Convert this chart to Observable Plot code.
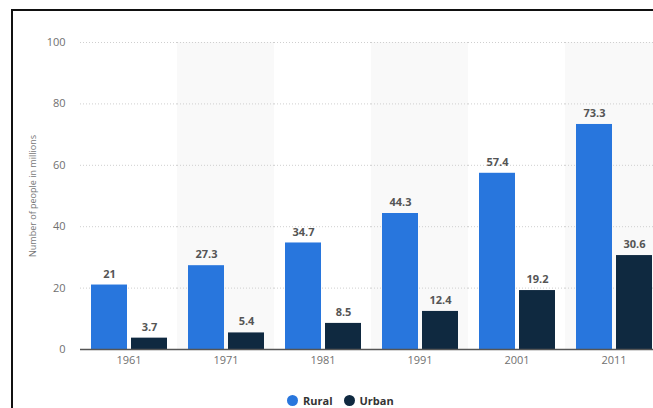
<!DOCTYPE html>
<html>
<head>
<meta charset="utf-8">
<script src="https://cdn.jsdelivr.net/npm/d3@7"></script>
<script src="https://cdn.jsdelivr.net/npm/@observablehq/plot@0.6"></script>
<style>
  html, body { margin: 0; padding: 0; background: #fff; overflow: hidden; width: 653px; height: 408px; }
  #wrap { position: relative; width: 653px; height: 408px; overflow: hidden; }
  #frame { position: absolute; left: 11px; top: 9px; width: 800px; height: 600px; border-top: 2px solid #111; border-left: 2px solid #111; pointer-events: none; }
  #chart { position: absolute; left: 0; top: 0; width: 700px; }
  #chart svg { max-width: none !important; }
  #legend { position: absolute; top: 393px; left: 287px; font-family: "Open Sans", sans-serif; font-size: 11px; font-weight: bold; color: #333; display: flex; align-items: center; white-space: nowrap; }
  #legend span.sw { display: inline-block; width: 11px; height: 11px; border-radius: 50%; margin-right: 5px; }
  #legend span.lab { margin-right: 11px; }
</style>
</head>
<body>
<div id="wrap">
  <div id="chart"></div>
  <div id="frame"></div>
  <div id="legend"></div>
</div>
<script>
const years = ["1961", "1971", "1981", "1991", "2001", "2011"];
const rural = [21, 27.3, 34.7, 44.3, 57.4, 73.3];
const urban = [3.7, 5.4, 8.5, 12.4, 19.2, 30.6];
const seriesNames = ["Rural", "Urban"];
const seriesColors = ["#2876dd", "#0f2940"];
const shadedYears = ["1971", "1991", "2011"];
const yTicks = [0, 20, 40, 60, 80, 100];
const yLabel = "Number of people in millions";

const data = [];
years.forEach((y, i) => {
  data.push({year: y, type: "Rural", value: rural[i]});
  data.push({year: y, type: "Urban", value: urban[i]});
});

const chart = Plot.plot({
  width: 670,
  height: 372,
  marginLeft: 80,
  marginRight: 8,
  marginTop: 42,
  marginBottom: 23,
  style: {fontFamily: "'Open Sans', sans-serif", background: "transparent", maxWidth: "none"},
  fx: {domain: years, padding: 0, label: null},
  x: {domain: seriesNames, paddingInner: 0.1, paddingOuter: 0.26, axis: null},
  y: {domain: [0, 100], label: null},
  color: {domain: seriesNames, range: seriesColors},
  marks: [
    Plot.barY(shadedYears, {fx: d => d, y1: 0, y2: 100, fill: "#f9f9f9"}),
    Plot.gridY(yTicks, {stroke: "#cfcfcf", strokeOpacity: 1, strokeDasharray: "1,2"}),
    Plot.axisY(yTicks, {tickSize: 0, tickPadding: 15, fontSize: 11, fill: "#707070", label: null}),
    Plot.axisFx({anchor: "bottom", tickSize: 0, tickPadding: 7, fontSize: 11, fill: "#707070", label: null}),
    Plot.barY(data, {fx: "year", x: "type", y: "value", fill: "type"}),
    Plot.ruleY([0], {stroke: "#555", strokeWidth: 1.5}),
    Plot.text(data, {fx: "year", x: "type", y: "value", text: d => String(d.value), dy: -11, fontWeight: "bold", fontSize: 11, fill: "#555"}),
    Plot.text([yLabel], {frameAnchor: "left", textAnchor: "middle", dx: -47, rotate: -90, fontSize: 9, fill: "#777", facetAnchor: "left"})
  ]
});
document.getElementById("chart").appendChild(chart);

const legend = document.getElementById("legend");
seriesNames.forEach((n, i) => {
  const sw = document.createElement("span");
  sw.className = "sw";
  sw.style.background = seriesColors[i];
  const lab = document.createElement("span");
  lab.className = "lab";
  lab.textContent = n;
  legend.appendChild(sw);
  legend.appendChild(lab);
});
</script>
</body>
</html>
